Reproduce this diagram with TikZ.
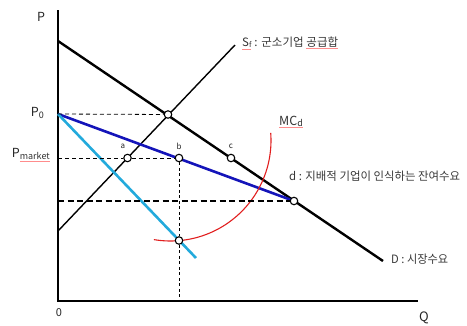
\documentclass[tikz,border=0pt]{standalone}
\usepackage{fontspec}
\usepackage{graphicx}
\setmainfont{Noto Sans CJK KR}
\definecolor{dblue}{RGB}{20,20,185}
\definecolor{lblue}{RGB}{35,170,220}
\definecolor{mcred}{RGB}{225,30,30}
\newcommand\spellu[1]{\textcolor{red!45}{\underline{\textcolor{black!80}{#1}}}}
\newlength\fitlen
\newcommand\fitto[2]{\settowidth\fitlen{#2}\ifdim\fitlen<#1\relax\makebox[#1][s]{#2}\else\resizebox{#1}{\height}{#2}\fi}
\begin{document}
\begin{tikzpicture}[x=1pt,y=-1pt,
  axis/.style={line width=1.8pt},
  dem/.style={line width=2.4pt},
  sup/.style={line width=1.4pt},
  resid/.style={line width=2.6pt, draw=dblue},
  mr/.style={line width=2.6pt, draw=lblue},
  mc/.style={line width=1.1pt, draw=mcred},
  guide/.style={line width=0.8pt, dash pattern=on 4pt off 3pt},
  guidev/.style={line width=0.8pt, dash pattern=on 3pt off 2.5pt},
  guideb/.style={line width=1.1pt, dash pattern=on 6pt off 3.5pt},
  pt/.style={circle, draw, fill=white, line width=1.1pt, inner sep=0pt, minimum size=7.5pt},
  lbl/.style={inner sep=0pt, font=\fontsize{11.5}{13}\selectfont, text=black!78},
  ax/.style={inner sep=0pt, font=\fontsize{12.5}{15}\selectfont, text=black!85},
  small/.style={inner sep=0pt, font=\fontsize{8}{9}\selectfont, text=black!85}]
\useasboundingbox (0,0) rectangle (467,325);
% coordinates
\coordinate (O) at (58,301);
\coordinate (Ytop) at (58,10);
\coordinate (Xend) at (418,301);
\coordinate (Dtop) at (58,41);
\coordinate (Dend) at (383,261);
\coordinate (Sbot) at (58,231);
\coordinate (Stop) at (235,45);
\coordinate (Y0) at (58,114);
\coordinate (Ym) at (58,158);
\coordinate (Yd) at (58,201);
\coordinate (Xb) at (179,301);
\coordinate (MRend) at (196,258);
% axes
\draw[axis] (Ytop) -- (O) -- (Xend);
% curves
\draw[sup] (Sbot) -- (Stop);
\draw[dem] (Dtop) -- (Dend);
\draw[resid] (Y0) -- (294,201);
\draw[mr] (Y0) -- (MRend);
\draw[mc] plot[smooth, samples=60, domain=99.5:-4.4] ({170.5+100.5*cos(\x)},{140.5+100.5*sin(\x)});
% points
\node[pt] (e) at (168,114.5) {};
\node[pt] (a) at (127.5,158) {};
\node[pt] (b) at (179,158) {};
\node[pt] (c) at (231,158) {};
\node[pt] (d) at (294,201) {};
\node[pt] (m) at (179,240.5) {};
% guides
\draw[guide] (Y0) -- (e);
\draw[guide] (Ym) -- (a);
\draw[guide] (a) -- (b);
\draw[guideb] (Yd) -- (d);
\draw[guidev] (b) -- (m);
\draw[guidev] (m) -- (Xb);
% labels
\node[ax] (Plab) at (41,17) {P};
\node[ax, anchor=east] (P0lab) at (44,113) {P\raisebox{-1.5pt}{\fontsize{9}{9}\selectfont 0}};
\node[ax, anchor=east] (Pmlab) at (50,155) {P\raisebox{-1.5pt}{\fontsize{9}{9}\selectfont\spellu{market}}};
\node[inner sep=0pt, font=\fontsize{11}{13}\selectfont, text=black!85] (Olab) at (59,313) {0};
\node[ax, font=\fontsize{13}{15}\selectfont] (Qlab) at (424,318) {Q};
\node[small] (alab) at (123,146) {a};
\node[small] (blab) at (179,146) {b};
\node[small] (clab) at (231,146) {c};
\node[ax] (mclab) at (291,122) {\spellu{MC\raisebox{-1pt}{\fontsize{9}{9}\selectfont d}}};
\node[lbl, anchor=west] (dlab) at (289,176) {\fitto{171pt}{d : 지배적 기업이 인식하는 잔여수요}};
\node[lbl, anchor=west] (Dlab) at (391,259) {\fitto{57pt}{D : 시장수요}};
\node[lbl, anchor=west] (Slab) at (242,43) {\fitto{96pt}{\spellu{S\raisebox{-1pt}{\fontsize{7.5}{8}\selectfont f}} : 군소기업 \spellu{공급합}}};
\end{tikzpicture}
\end{document}
